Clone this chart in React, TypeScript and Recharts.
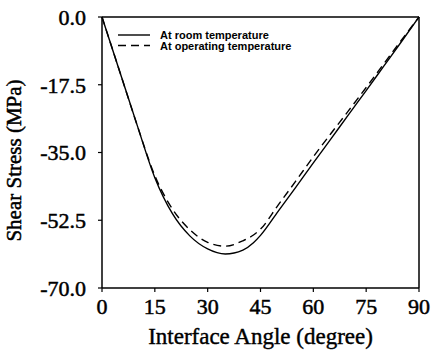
import { LineChart, Line, XAxis, YAxis, Legend, ReferenceLine } from 'recharts';

// interface angle (degree)
const angles = [0, 5, 10, 15, 20, 25, 30, 35, 40, 43, 45, 50, 55, 60, 65, 70, 75, 80, 85, 90];
// shear stress (MPa)
const roomTemp = [0, -14, -28, -41.5, -50.8, -56.6, -59.9, -61.2, -60.2, -58.3, -56.4, -50.2, -44, -37.7, -31.5, -25.2, -19, -12.7, -6.4, 0];
const operatingTemp = [0, -14, -28, -41, -49.6, -55, -58.2, -59.2, -57.8, -56.3, -54.8, -48.6, -42.4, -36.1, -30.1, -24.2, -18.2, -12.1, -6, 0];

const xTicks = [0, 15, 30, 45, 60, 75, 90];
const yTicks = [0, -17.5, -35, -52.5, -70];

const data = angles.map((a, i) => ({ angle: a, room: roomTemp[i], operating: operatingTemp[i] }));

const font = '"Liberation Serif", "Times New Roman", serif';
// scanned print looks heavy, thin stroke thickens the glyphs a bit
const heavy = { fill: '#000', stroke: '#000', strokeWidth: 0.5, fontFamily: font };
const tickStyle = { ...heavy, fontSize: 22 };

function LegendBox() {
  const rows = [
    { label: 'At room temperature', dash: undefined },
    { label: 'At operating temperature', dash: '8 5' },
  ];
  return (
    <svg width={210} height={26}>
      {rows.map((r, i) => (
        <g key={r.label}>
          <line x1={0} x2={32} y1={5 + i * 10.5} y2={5 + i * 10.5} stroke="#000" strokeWidth={1.4} strokeDasharray={r.dash} />
          <text x={42} y={9 + i * 10.5} fontSize={11} fontWeight="bold" fontFamily='"Liberation Sans", Arial, sans-serif' fill="#000">{r.label}</text>
        </g>
      ))}
    </svg>
  );
}

export default function App() {
  return (
    <div style={{ position: 'absolute', left: 0, top: 0, width: 436, height: 356, background: '#fff' }}>
      <LineChart width={436} height={356} data={data} margin={{ top: 17, right: 17, bottom: 0, left: 0 }}>
        <XAxis
          dataKey="angle"
          type="number"
          domain={[0, 90]}
          ticks={xTicks}
          interval={0}
          height={68}
          tick={tickStyle}
          tickSize={4}
          tickMargin={6}
          axisLine={{ stroke: '#000', strokeWidth: 1.5 }}
          tickLine={{ stroke: '#000', strokeWidth: 1.2 }}
          label={{ value: 'Interface Angle (degree)', position: 'insideBottom', offset: 12, style: { ...heavy, strokeWidth: 0.4, fontSize: 23 } }}
        />
        <YAxis
          type="number"
          domain={[-70, 0]}
          ticks={yTicks}
          interval={0}
          width={102}
          tick={tickStyle}
          tickSize={4}
          tickMargin={12}
          tickFormatter={(v: number) => v.toFixed(1)}
          axisLine={{ stroke: '#000', strokeWidth: 1.5 }}
          tickLine={{ stroke: '#000', strokeWidth: 1.2 }}
          label={{ value: 'Shear Stress (MPa)', angle: -90, position: 'insideLeft', offset: 14, dy: 8, style: { ...heavy, fontSize: 21, textAnchor: 'middle' } }}
        />
        <ReferenceLine y={0} stroke="#000" strokeWidth={1.5} />
        <ReferenceLine x={90} stroke="#000" strokeWidth={1.5} />
        <Legend layout="horizontal" verticalAlign="middle" align="center" content={<LegendBox />} wrapperStyle={{ top: 30, left: 118, width: 210, height: 26 }} />
        <Line type="monotone" dataKey="room" stroke="#000" strokeWidth={1.4} dot={false} isAnimationActive={false} />
        <Line type="monotone" dataKey="operating" stroke="#000" strokeWidth={1.4} strokeDasharray="8 5" dot={false} isAnimationActive={false} />
      </LineChart>
    </div>
  );
}
